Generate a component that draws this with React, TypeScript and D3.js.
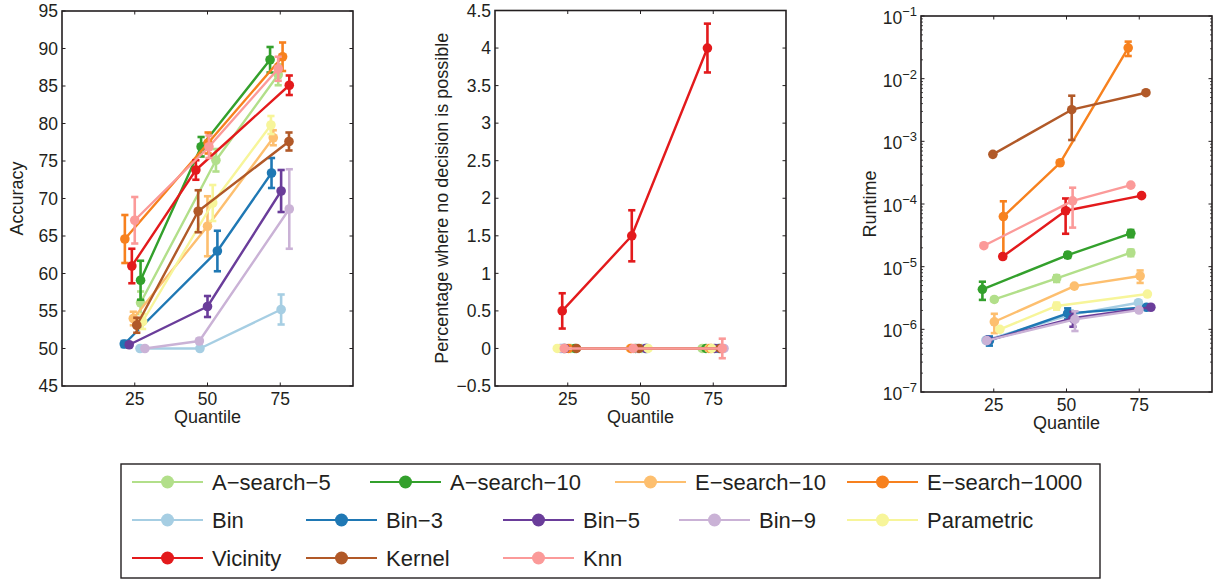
import React from 'react';
import * as d3 from 'd3';

// ---- series ----
const seriesNames = [
  'A−search−5', 'A−search−10', 'E−search−10', 'E−search−1000',
  'Bin', 'Bin−3', 'Bin−5', 'Bin−9', 'Parametric',
  'Vicinity', 'Kernel', 'Knn',
];
const seriesColors = [
  '#b2df8a', '#33a02c', '#fdbf6f', '#f7811e',
  '#a6cee3', '#1f78b4', '#6a3d9a', '#cab2d6', '#f7f59a',
  '#e31a1c', '#b15928', '#fb9a99',
];
const quantileTicks = [25, 50, 75];

// ---- accuracy (%) ----
const accuracyMean = [
  [56.1, 75.1, 86.5], [59.1, 76.9, 88.5], [54.0, 66.3, 78.1], [64.6, 77.4, 88.9],
  [50.0, 50.0, 55.2], [50.6, 63.0, 73.4], [50.5, 55.6, 71.0], [50.0, 51.0, 68.6],
  [53.6, 69.4, 79.8], [61.0, 73.8, 85.1], [53.1, 68.3, 77.6], [67.1, 76.9, 87.3],
];
const accuracyErr = [
  [1.5, 1.5, 1.4], [2.6, 1.3, 1.7], [0.9, 4.0, 1.0], [3.2, 1.4, 1.9],
  [0, 0, 2.0], [0.4, 2.7, 2.0], [0.2, 1.4, 2.8], [0, 0.3, 5.3],
  [1.0, 2.4, 1.2], [2.3, 1.3, 1.3], [1.0, 2.8, 1.2], [3.1, 1.5, 1.6],
];
const accuracyQ = [
  [27.0, 52.9, 74.3], [27.0, 47.8, 71.5], [24.5, 50.0, 72.6], [21.6, 50.2, 75.8],
  [26.8, 47.4, 75.3], [21.4, 53.4, 72.0], [23.1, 50.0, 75.3], [28.5, 47.2, 78.1],
  [27.7, 51.8, 71.8], [24.0, 46.0, 78.1], [25.7, 46.8, 78.0], [25.0, 50.5, 74.3],
];
const accuracyTicks = [45, 50, 55, 60, 65, 70, 75, 80, 85, 90, 95];

// ---- percentage where no decision is possible ----
const undecidedMean = [
  [0, 0, 0], [0, 0, 0], [0, 0, 0], [0, 0, 0],
  [0, 0, 0], [0, 0, 0], [0, 0, 0], [0, 0, 0],
  [0, 0, 0], [0.5, 1.5, 4.0], [0, 0, 0], [0, 0, 0],
];
const undecidedErr = [
  [0, 0, 0], [0, 0, 0], [0, 0, 0], [0, 0, 0],
  [0, 0, 0], [0, 0, 0], [0, 0, 0], [0, 0, 0],
  [0, 0, 0], [0.235, 0.34, 0.325], [0, 0, 0], [0, 0, 0.13],
];
const undecidedQ = [
  [26.0, 50.5, 71.2], [27.5, 48.3, 72.5], [24.2, 46.5, 73.5], [25.3, 46.8, 74.2],
  [22.8, 51.5, 76.3], [23.5, 52.2, 77.0], [24.0, 51.8, 75.5], [22.4, 49.0, 78.7],
  [21.4, 52.6, 74.5], [23.1, 47.0, 73.0], [28.0, 49.5, 77.4], [23.8, 47.5, 78.1],
];
const undecidedTicks = [-0.5, 0, 0.5, 1, 1.5, 2, 2.5, 3, 3.5, 4, 4.5];

// ---- runtime (s) ----
const runtimeMean = [
  [3.0e-6, 6.5e-6, 1.67e-5], [4.35e-6, 1.53e-5, 3.4e-5], [1.32e-6, 4.9e-6, 7.1e-6], [6.3e-5, 4.55e-4, 3.1e-2],
  [6.7e-7, 1.7e-6, 2.66e-6], [6.6e-7, 1.8e-6, 2.25e-6], [6.7e-7, 1.5e-6, 2.25e-6], [6.6e-7, 1.44e-6, 2.03e-6],
  [1.0e-6, 2.36e-6, 3.66e-6], [1.45e-5, 7.8e-5, 1.36e-4], [6.2e-4, 3.2e-3, 5.97e-3], [2.16e-5, 1.12e-4, 2.0e-4],
];
const runtimeErr = [
  [2e-7, 8e-7, 2e-6], [1.4e-6, 1.5e-6, 4.5e-6], [4.5e-7, 3e-7, 1.6e-6], [4.75e-5, 2e-5, 8e-3],
  [3e-8, 3e-7, 1e-7], [1.1e-7, 3.6e-7, 1e-7], [3e-8, 4e-7, 1e-7], [3e-8, 5e-7, 1e-7],
  [5e-8, 3e-7, 1e-7], [1e-6, 4.45e-5, 5e-6], [1e-5, 2.15e-3, 1e-4], [1e-6, 7e-5, 5e-6],
];
const runtimeQ = [
  [25.2, 46.6, 72.1], [21.1, 50.4, 72.1], [25.2, 52.7, 75.3], [28.3, 47.8, 71.2],
  [22.3, 51.3, 74.7], [23.5, 50.4, 77.5], [22.8, 52.2, 79.0], [22.6, 52.9, 74.9],
  [27.1, 46.6, 77.8], [28.1, 49.7, 75.8], [24.7, 51.8, 77.3], [21.6, 52.1, 72.1],
];
const runtimeExponents = [-7, -6, -5, -4, -3, -2, -1];

// ---- legend layout (column starts per row, in series order) ----
const legendRows = [[0, 1, 2, 3], [4, 5, 6, 7, 8], [9, 10, 11]];
const legendColumns = [[132, 370, 615, 847], [132, 306, 503, 679, 847], [132, 306, 503]];
const legendRowY = [482, 520, 558];

const INK = '#231f20';
const FONT = 'Liberation Sans, Arial, Helvetica, sans-serif';
const TICK_FONT = 17.5;

type Scale = (v: number) => number;

interface PanelProps {
  x0: number; x1: number; y0: number; y1: number;
  y: Scale;
  yTicks: number[];
  yTickLabel: (v: number) => React.ReactNode;
  minorTicks?: number[];
  means: number[][];
  errs: number[][];
  qs: number[][];
  ylabel: string;
  ylabelX: number;
}

function Panel(p: PanelProps) {
  const x = d3.scaleLinear().domain([0, 100]).range([p.x0, p.x1]);
  const tick = 3.5;
  const cap = 3.6;
  const midY = (p.y0 + p.y1) / 2;
  return (
    <g>
      {p.means.map((m, s) => {
        const line = d3.line<number>()
          .x((_, i) => x(p.qs[s][i]))
          .y((d) => p.y(d));
        const c = seriesColors[s];
        return (
          <g key={s}>
            <path d={line(m) ?? ''} fill="none" stroke={c} strokeWidth={2.4} strokeLinejoin="round" />
            {m.map((v, i) => {
              const e = p.errs[s][i];
              if (!(e > 0)) return null;
              const cx = x(p.qs[s][i]);
              const yt = p.y(v + e);
              const yb = p.y(v - e);
              return (
                <g key={i} stroke={c} strokeWidth={2.6}>
                  <line x1={cx} x2={cx} y1={yt} y2={yb} />
                  <line x1={cx - cap} x2={cx + cap} y1={yt} y2={yt} />
                  <line x1={cx - cap} x2={cx + cap} y1={yb} y2={yb} />
                </g>
              );
            })}
            {m.map((v, i) => (
              <circle key={`m${i}`} cx={x(p.qs[s][i])} cy={p.y(v)} r={4.8} fill={c} />
            ))}
          </g>
        );
      })}

      {/* frame */}
      <rect x={p.x0} y={p.y0} width={p.x1 - p.x0} height={p.y1 - p.y0} fill="none" stroke={INK} strokeWidth={1.6} />

      {/* x ticks, bottom and top, pointing inward */}
      {quantileTicks.map((q) => (
        <g key={`xt${q}`} stroke={INK} strokeWidth={1}>
          <line x1={x(q)} x2={x(q)} y1={p.y1} y2={p.y1 - tick} />
          <line x1={x(q)} x2={x(q)} y1={p.y0} y2={p.y0 + tick} />
        </g>
      ))}
      {quantileTicks.map((q) => (
        <text key={`xl${q}`} x={x(q)} y={p.y1 + 19} textAnchor="middle" fontSize={TICK_FONT} fill={INK}>{q}</text>
      ))}

      {/* y ticks, left and right */}
      {p.yTicks.map((v) => (
        <g key={`yt${v}`} stroke={INK} strokeWidth={1}>
          <line x1={p.x0} x2={p.x0 + tick} y1={p.y(v)} y2={p.y(v)} />
          <line x1={p.x1} x2={p.x1 - tick} y1={p.y(v)} y2={p.y(v)} />
        </g>
      ))}
      {(p.minorTicks ?? []).map((v, i) => (
        <g key={`mt${i}`} stroke={INK} strokeWidth={0.8}>
          <line x1={p.x0} x2={p.x0 + 2} y1={p.y(v)} y2={p.y(v)} />
          <line x1={p.x1} x2={p.x1 - 2} y1={p.y(v)} y2={p.y(v)} />
        </g>
      ))}
      {p.yTicks.map((v) => (
        <g key={`yl${v}`}>{p.yTickLabel(v)}</g>
      ))}

      <text x={(p.x0 + p.x1) / 2} y={p.y1 + 37} textAnchor="middle" fontSize={18} fill={INK}>Quantile</text>
      <text transform={`translate(${p.ylabelX},${midY}) rotate(-90)`} textAnchor="middle" fontSize={18} fill={INK}>{p.ylabel}</text>
    </g>
  );
}

export default function App() {
  const W = 1222;
  const H = 579;

  const yAcc = d3.scaleLinear().domain([45, 95]).range([386, 11]);
  const yPct = d3.scaleLinear().domain([-0.5, 4.5]).range([386, 10.5]);
  const yRun = d3.scaleLog().domain([1e-7, 1e-1]).range([392, 16]);

  const fmt = d3.format('~g');
  const runtimeMajor = runtimeExponents.map((k) => Math.pow(10, k));
  const runtimeMinor: number[] = [];
  runtimeExponents.slice(0, -1).forEach((k) => {
    for (let m = 2; m <= 9; m++) runtimeMinor.push(m * Math.pow(10, k));
  });

  return (
    <svg width={W} height={H} viewBox={`0 0 ${W} ${H}`}
      style={{ position: 'absolute', left: 0, top: 0, background: '#fff', fontFamily: FONT }}>
      <rect width={W} height={H} fill="#fff" />

      <Panel x0={62} x1={353} y0={11} y1={386} y={yAcc}
        yTicks={accuracyTicks}
        yTickLabel={(v) => (
          <text x={58} y={yAcc(v) + 6.2} textAnchor="end" fontSize={TICK_FONT} fill={INK}>{v}</text>
        )}
        means={accuracyMean} errs={accuracyErr} qs={accuracyQ}
        ylabel="Accuracy" ylabelX={23} />

      <Panel x0={495} x1={786} y0={10.5} y1={386} y={yPct}
        yTicks={undecidedTicks}
        yTickLabel={(v) => (
          <text x={491} y={yPct(v) + 6.2} textAnchor="end" fontSize={TICK_FONT} fill={INK}>{fmt(v)}</text>
        )}
        means={undecidedMean} errs={undecidedErr} qs={undecidedQ}
        ylabel="Percentage where no decision is possible" ylabelX={448} />

      <Panel x0={921} x1={1212} y0={16} y1={392} y={yRun}
        yTicks={runtimeMajor}
        minorTicks={runtimeMinor}
        yTickLabel={(v) => (
          <text x={917} y={yRun(v) + 8} textAnchor="end" fontSize={TICK_FONT} fill={INK}>
            <tspan>10</tspan>
            <tspan dy={-8} fontSize={13}>{`−${Math.round(-Math.log10(v))}`}</tspan>
          </text>
        )}
        means={runtimeMean} errs={runtimeErr} qs={runtimeQ}
        ylabel="Runtime" ylabelX={876} />

      {/* legend */}
      <rect x={121} y={464} width={979} height={114} fill="#fff" stroke={INK} strokeWidth={1.4} />
      {legendRows.map((row, r) =>
        row.map((s, c) => {
          const lx = legendColumns[r][c];
          const ly = legendRowY[r];
          return (
            <g key={`lg${s}`}>
              <line x1={lx} x2={lx + 71} y1={ly} y2={ly} stroke={seriesColors[s]} strokeWidth={2.2} />
              <circle cx={lx + 35.5} cy={ly} r={6.5} fill={seriesColors[s]} />
              <text x={lx + 80} y={ly + 8} fontSize={22} fill={INK}>{seriesNames[s]}</text>
            </g>
          );
        })
      )}
    </svg>
  );
}
